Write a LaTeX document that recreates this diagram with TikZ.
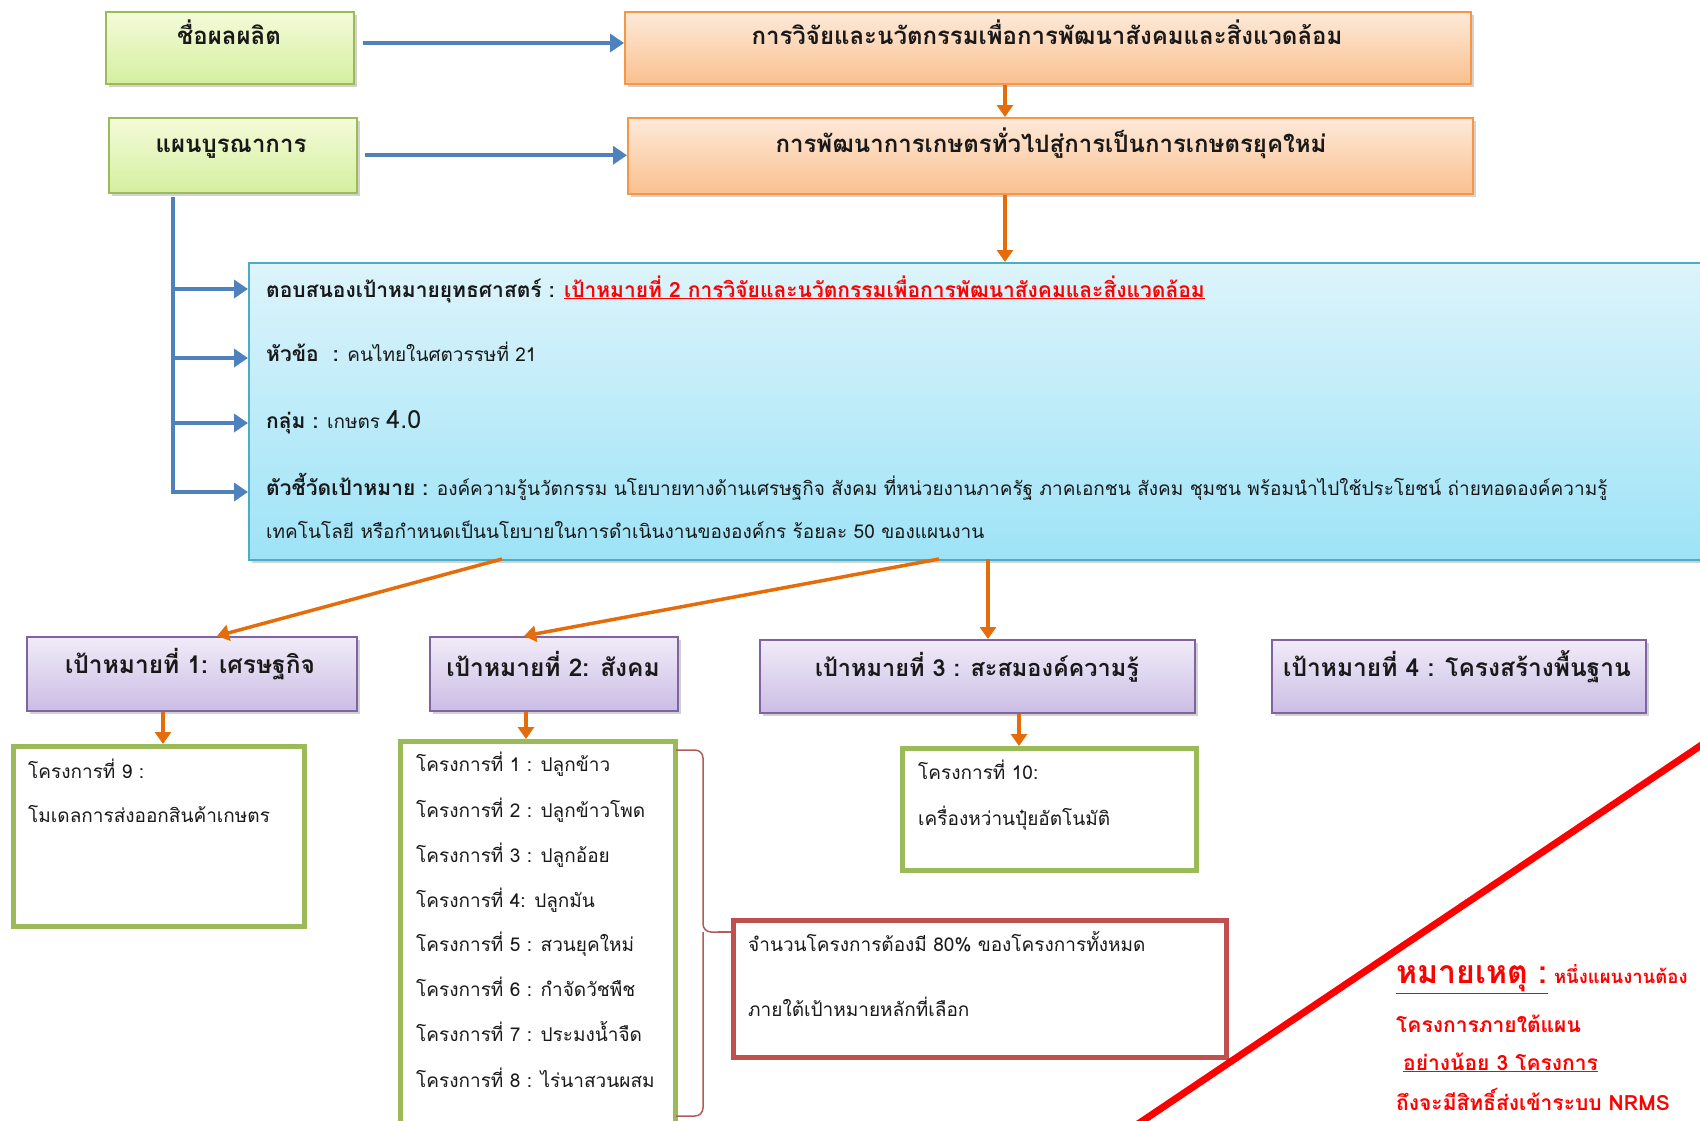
\documentclass[tikz,border=0pt]{standalone}
\usepackage{fontspec}
\setmainfont[Script=Thai]{Loma}
\usetikzlibrary{shadows,arrows.meta,calc}
\definecolor{grnB}{HTML}{9BBB59}
\definecolor{grnT}{HTML}{F4FBD9}
\definecolor{grnBo}{HTML}{D4EFA0}
\definecolor{orB}{HTML}{F79646}
\definecolor{orT}{HTML}{FDEADA}
\definecolor{orBo}{HTML}{FAC08F}
\definecolor{bluB}{HTML}{4BACC6}
\definecolor{bluT}{HTML}{DDF4FB}
\definecolor{bluBo}{HTML}{9EE3F7}
\definecolor{purB}{HTML}{8064A2}
\definecolor{purT}{HTML}{F1ECF8}
\definecolor{purBo}{HTML}{CBBDE5}
\definecolor{arB}{HTML}{4F81BD}
\definecolor{arO}{HTML}{E46C0A}
\definecolor{redB}{HTML}{C0504D}
\definecolor{braceC}{HTML}{B55A5A}
\definecolor{noteR}{HTML}{FF0000}
\newcommand\myfs[1]{\fontsize{#1}{#1}\selectfont}
\newcommand\bfl[1]{{\bfseries\myfs{21}#1}}
\begin{document}
\begin{tikzpicture}[x=1pt,y=-1pt,
 box/.style={draw, line width=1.5pt, anchor=north west, inner sep=0pt,
   drop shadow={shadow xshift=3pt,shadow yshift=-3pt,opacity=0.35}},
 gbox/.style={box, draw=grnB, top color=grnT, bottom color=grnBo},
 obox/.style={box, draw=orB, top color=orT, bottom color=orBo},
 cbox/.style={box, draw=bluB, top color=bluT, bottom color=bluBo},
 pbox/.style={box, draw=purB, top color=purT, bottom color=purBo},
 projbox/.style={draw=grnB, line width=5pt, fill=white, anchor=north west, inner sep=0pt},
 redbox/.style={draw=redB, line width=5pt, fill=white, anchor=north west, inner sep=0pt},
 ttl/.style={font=\bfseries\myfs{24}, text=black!90, inner sep=0pt},
 gtl/.style={font=\bfseries\myfs{24.5}, text=black!90, inner sep=0pt},
 txt/.style={font=\myfs{19}, text=black!90, inner sep=0pt, anchor=base west},
 ptxt/.style={font=\myfs{19}, text=black!90, inner sep=0pt, anchor=base west},
 note/.style={font=\bfseries\myfs{21}, text=noteR, inner sep=0pt, anchor=base west},
 barrow/.style={draw=arB, line width=4pt, -{Triangle[length=14pt,width=18pt]}},
 bline/.style={draw=arB, line width=4pt},
 oarrow/.style={draw=arO, line width=3.5pt, -{Triangle[length=12pt,width=16pt]}},
 bracestyle/.style={draw=braceC, line width=1.5pt, rounded corners=8pt},
 diag/.style={draw=noteR, line width=7pt}
]
\useasboundingbox (0,0) rectangle (1700,1120);
\begin{scope}
\clip (0,0) rectangle (1700,1120);
\fill[white] (0,0) rectangle (1700,1120);

% top boxes
\node[gbox, minimum width=248pt, minimum height=72pt] (A) at (105,11) {};
\node[gbox, minimum width=248pt, minimum height=75pt] (B) at (108,117) {};
\node[obox, minimum width=846pt, minimum height=72pt] (O1) at (624,11) {};
\node[obox, minimum width=845pt, minimum height=76pt] (O2) at (627,117) {};
\node[ttl] (At) at (229,32) {ชื่อผลผลิต};
\node[ttl] (Bt) at (231,149) {แผนบูรณาการ};
\node[ttl] (O1t) at (1047,32) {การวิจัยและนวัตกรรมเพื่อการพัฒนาสังคมและสิ่งแวดล้อม};
\node[ttl] (O2t) at (1051,143) {การพัฒนาการเกษตรทั่วไปสู่การเป็นการเกษตรยุคใหม่};

% blue box
\node[cbox, minimum width=1470pt, minimum height=297pt] (C) at (248,262) {};
\node[txt] (c1) at (266,297) {\bfl{ตอบสนองเป้าหมายยุทธศาสตร์ : \textcolor{noteR}{\underline{เป้าหมายที่ 2 การวิจัยและนวัตกรรมเพื่อการพัฒนาสังคมและสิ่งแวดล้อม}}}};
\node[txt] (c2) at (266,361) {\bfl{หัวข้อ~~:} คนไทยในศตวรรษที่ 21};
\node[txt] (c3) at (266,428) {\bfl{กลุ่ม :} เกษตร {\myfs{25}4.0}};
\node[txt] (c4) at (266,495) {\bfl{ตัวชี้วัดเป้าหมาย :} องค์ความรู้นวัตกรรม นโยบายทางด้านเศรษฐกิจ สังคม ที่หน่วยงานภาครัฐ ภาคเอกชน สังคม ชุมชน พร้อมนำไปใช้ประโยชน์ ถ่ายทอดองค์ความรู้};
\node[txt] (c5) at (266,538) {เทคโนโลยี หรือกำหนดเป็นนโยบายในการดำเนินงานขององค์กร ร้อยละ 50 ของแผนงาน};

% goal boxes
\node[pbox, minimum width=330pt, minimum height=74pt] (G1) at (26,636) {};
\node[pbox, minimum width=248pt, minimum height=74pt] (G2) at (429,636) {};
\node[pbox, minimum width=435pt, minimum height=73pt] (G3) at (759,639) {};
\node[pbox, minimum width=374pt, minimum height=73pt] (G4) at (1271,639) {};
\node[gtl] (G1t) at (190,664) {เป้าหมายที่ 1: เศรษฐกิจ};
\node[gtl] (G2t) at (553,664) {เป้าหมายที่ 2: สังคม};
\node[gtl, font=\bfseries\myfs{23.5}] (G3t) at (977,667) {เป้าหมายที่ 3 : สะสมองค์ความรู้};
\node[gtl] (G4t) at (1457,667) {เป้าหมายที่ 4 : โครงสร้างพื้นฐาน};

% project boxes
\node[projbox, minimum width=291pt, minimum height=180pt] (P9) at (11,744) {};
\node[projbox, minimum width=275pt, minimum height=395pt] (P18) at (398,739) {};
\node[projbox, minimum width=294pt, minimum height=122pt] (P10) at (900,746) {};
\node[redbox, minimum width=493pt, minimum height=137pt] (R) at (731,918) {};

\node[ptxt] (p9a) at (28,778) {โครงการที่ 9 :};
\node[ptxt] (p9b) at (28,822) {โมเดลการส่งออกสินค้าเกษตร};
\node[ptxt] (p1) at (416,771) {โครงการที่ 1 : ปลูกข้าว};
\node[ptxt] (p2) at (416,817) {โครงการที่ 2 : ปลูกข้าวโพด};
\node[ptxt] (p3) at (416,862) {โครงการที่ 3 : ปลูกอ้อย};
\node[ptxt] (p4) at (416,907) {โครงการที่ 4: ปลูกมัน};
\node[ptxt] (p5) at (416,951) {โครงการที่ 5 : สวนยุคใหม่};
\node[ptxt] (p6) at (416,996) {โครงการที่ 6 : กำจัดวัชพืช};
\node[ptxt] (p7) at (416,1041) {โครงการที่ 7 : ประมงน้ำจืด};
\node[ptxt] (p8) at (416,1087) {โครงการที่ 8 : ไร่นาสวนผสม};
\node[ptxt] (p10a) at (918,779) {โครงการที่ 10:};
\node[ptxt] (p10b) at (918,825) {เครื่องหว่านปุ๋ยอัตโนมัติ};
\node[ptxt] (r1) at (748,951) {จำนวนโครงการต้องมี 80\% ของโครงการทั้งหมด};
\node[ptxt] (r2) at (748,1016) {ภายใต้เป้าหมายหลักที่เลือก};

% brace
\coordinate (brT) at (676,750);
\coordinate (brB) at (676,1116);
\coordinate (brTip) at (718,932);
\draw[bracestyle] (brT) -- (703,750) -- (703,932) -- (brTip);
\draw[bracestyle] (brB) -- (703,1116) -- (703,932);
\draw[draw=braceC, line width=1.5pt] (brTip) -- (R.west |- brTip);

% blue connectors
\draw[barrow, shorten <=8pt] (A.east |- 0,43) -- (O1.west |- 0,43);
\draw[barrow, shorten <=7pt] (B.east) -- (O2.west |- B.east);
\coordinate (bk1) at (173,197);
\coordinate (l1) at (173,289);
\coordinate (l2) at (173,358);
\coordinate (l3) at (173,423);
\coordinate (l4) at (173,492);
\draw[bline] (bk1) -- ([yshift=-2pt]l4);
\draw[barrow] (l1) -- (C.west |- l1);
\draw[barrow] (l2) -- (C.west |- l2);
\draw[barrow] (l3) -- (C.west |- l3);
\draw[barrow] (l4) -- (C.west |- l4);

% orange connectors
\coordinate (ox) at (1005,0);
\draw[oarrow] (O1.south -| ox) -- (O2.north -| ox);
\draw[oarrow] (O2.south -| ox) -- (C.north -| ox);
\coordinate (s1) at (502,559);
\coordinate (s2) at (939,559);
\coordinate (s3) at (988,559);
\draw[oarrow] (s1) -- (G1.north -| 217,0);
\draw[oarrow] (s2) -- (G2.north -| 524,0);
\draw[oarrow] (s3) -- (G3.north -| s3);
\draw[oarrow] (G1.south -| 163,0) -- (P9.north -| 163,0);
\draw[oarrow] (G2.south -| 526,0) -- (P18.north -| 526,0);
\draw[oarrow] (G3.south -| 1019,0) -- (P10.north -| 1019,0);

% diagonal red line
\coordinate (d1) at (1126,1132);
\coordinate (d2) at (1712,738);
\draw[diag] (d1) -- (d2);

% note
\node[note, font=\bfseries\myfs{32}] (n0) at (1396,983) {\underline{หมายเหตุ :}};
\node[note, font=\bfseries\myfs{18.5}] (n0b) at ([xshift=6pt]n0.base east) {หนึ่งแผนงานต้อง};
\node[note] (n1) at (1396,1032) {โครงการภายใต้แผน};
\node[note] (n2) at (1403,1070) {\underline{อย่างน้อย 3 โครงการ}};
\node[note] (n3) at (1396,1110) {ถึงจะมีสิทธิ์ส่งเข้าระบบ NRMS};
\end{scope}
\end{tikzpicture}
\end{document}
